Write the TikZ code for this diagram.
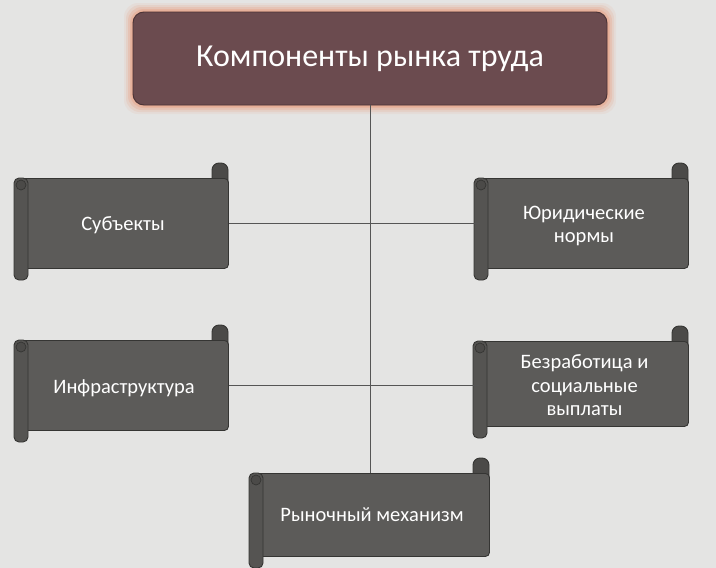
\documentclass[tikz,border=0pt]{standalone}
\usepackage{fontspec}
\setmainfont{Carlito}
\usetikzlibrary{calc}
\definecolor{bggray}{HTML}{E4E4E3}
\definecolor{scrollgray}{HTML}{5C5B59}
\definecolor{rollgray}{HTML}{555452}
\definecolor{curlgray}{HTML}{4B4A48}
\definecolor{scrolledge}{HTML}{353533}
\definecolor{titlefill}{HTML}{6B4B4F}
\definecolor{titleedge}{HTML}{4A3336}
\definecolor{glow}{HTML}{E8A58A}
\definecolor{linegray}{HTML}{555555}
\tikzset{
  bodyfill/.style={fill=scrollgray,draw=scrolledge,line width=0.9pt,rounded corners=4pt,inner sep=0pt,anchor=north west},
  rollfill/.style={fill=rollgray,draw=scrolledge,line width=0.9pt,rounded corners=5pt},
  curlfill/.style={fill=curlgray,draw=scrolledge,line width=0.9pt,rounded corners=7pt},
  lbl/.style={text=white,font=\fontsize{20.5}{23.5}\selectfont,align=center},
  conn/.style={draw=linegray,line width=0.8pt}}
\newcommand\scrollbox[8]{%
  \path[curlfill] (#4-16,#3-15) rectangle (#4,#3+12);
  \node[bodyfill,minimum width=#4-#2-6,minimum height=#5-#3] (#1) at (#2+6,#3) {};
  \path[rollfill] (#2,#3) rectangle (#2+14,#5+12);
  \draw[scrolledge,line width=0.7pt,fill=curlgray] (#2+7,#3+7) circle (5pt);
  \node[lbl] (#1-t) at ($(#2,#3)!0.5!(#4,#5)+(#7,#8)$) {#6};
}
\begin{document}
\begin{tikzpicture}[x=1pt,y=-1pt]
\fill[bggray] (0,0) rectangle (716,568);
\useasboundingbox (0,0) rectangle (716,568);
% glow
\foreach \g/\o in {9/0.12,7/0.2,5/0.3,3/0.45,1.5/0.6}{
  \fill[glow,opacity=\o,rounded corners=14pt] (133-\g,12-\g) rectangle (607+\g,105+\g);
}
\node[fill=titlefill,draw=titleedge,line width=0.9pt,rounded corners=11pt,
  minimum width=474,minimum height=93,inner sep=0pt,text=white,
  font=\fontsize{32}{38}\selectfont] (title) at (370,58.5) {Компоненты рынка труда};
\scrollbox{subj}{14}{178}{228}{268}{Субъекты}{2}{2}
\scrollbox{yurid}{474}{178}{688}{268}{Юридические\\нормы}{3}{3}
\scrollbox{infra}{14}{340}{228}{430}{Инфраструктура}{3}{3}
\scrollbox{bezr}{473}{341}{688}{426}{Безработица и\\социальные\\выплаты}{4}{2}
\scrollbox{rynok}{249}{473}{489}{556}{Рыночный механизм}{3}{0}
\draw[conn] (title.south) -- (title.south |- rynok.north);
\draw[conn] (subj.east) -- (subj.east -| yurid.west);
\draw[conn] (infra.east) -- (infra.east -| bezr.west);
\end{tikzpicture}
\end{document}
